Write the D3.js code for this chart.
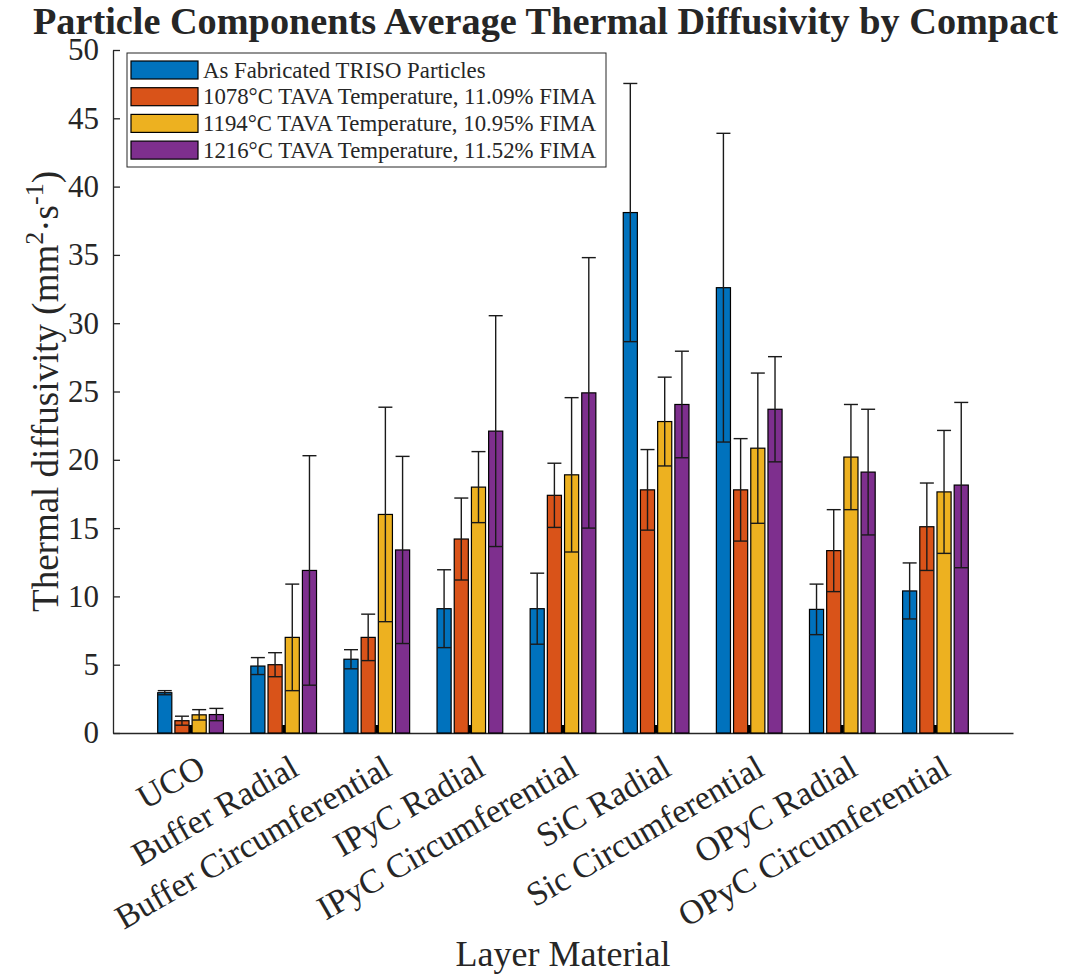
<!DOCTYPE html>
<html>
<head>
<meta charset="utf-8">
<script src="https://cdn.jsdelivr.net/npm/d3@7"></script>
<style>
  body { margin: 0; background: #fff; }
  text { font-family: "Liberation Serif", "Times New Roman", serif; fill: #262626; }
</style>
</head>
<body>
<svg id="chart" width="1066" height="977"></svg>
<script>
var categories = ['UCO', 'Buffer Radial', 'Buffer Circumferential', 'IPyC Radial',
  'IPyC Circumferential', 'SiC Radial', 'Sic Circumferential', 'OPyC Radial', 'OPyC Circumferential'];

var seriesNames = [
  'As Fabricated TRISO Particles',
  '1078\u00B0C TAVA Temperature, 11.09% FIMA',
  '1194\u00B0C TAVA Temperature, 10.95% FIMA',
  '1216\u00B0C TAVA Temperature, 11.52% FIMA'
];
var seriesColors = ['#0072BD', '#D95319', '#EDB120', '#7E2F8E'];

// mean values per category
var asFabMean  = [2.95, 4.9, 5.4, 9.1, 9.1, 38.1, 32.6, 9.05, 10.4];
var c1078Mean  = [0.9, 5.0, 7.0, 14.2, 17.4, 17.8, 17.8, 13.35, 15.1];
var c1194Mean  = [1.33, 7.0, 16.0, 18.0, 18.9, 22.8, 20.85, 20.2, 17.65];
var c1216Mean  = [1.35, 11.9, 13.4, 22.1, 24.9, 24.05, 23.7, 19.1, 18.15];

// error bar half-widths
var asFabErr   = [0.15, 0.62, 0.7, 2.85, 2.6, 9.45, 11.3, 1.85, 2.05];
var c1078Err   = [0.33, 0.88, 1.7, 3.0, 2.35, 2.95, 3.75, 3.0, 3.2];
var c1194Err   = [0.38, 3.9, 7.85, 2.6, 5.65, 3.25, 5.5, 3.85, 4.5];
var c1216Err   = [0.45, 8.4, 6.85, 8.45, 9.9, 3.9, 3.85, 4.6, 6.05];

var yTicks = [0, 5, 10, 15, 20, 25, 30, 35, 40, 45, 50];

var means  = [asFabMean, c1078Mean, c1194Mean, c1216Mean];
var errors = [asFabErr, c1078Err, c1194Err, c1216Err];

var svg = d3.select('#chart');
var axisColor = '#262626';

var plot = { left: 113, right: 1013, top: 50, bottom: 733 };

/**
 * Scales
 */
var x0 = d3.scaleBand()
  .domain(categories)
  .range([plot.left, plot.right])
  .paddingInner(0)
  .paddingOuter(0.333);

var groupWidth = 68.8;
var x1 = d3.scaleBand()
  .domain(d3.range(seriesNames.length))
  .range([-groupWidth / 2, groupWidth / 2])
  .paddingInner(0.18)
  .paddingOuter(0.09);

var y = d3.scaleLinear()
  .domain([0, 50])
  .range([plot.bottom, plot.top]);

function groupCenter(cat) {
  return x0(cat) + x0.bandwidth() / 2;
}

// flatten into one record per bar
var bars = [];
categories.forEach(function (cat, i) {
  means.forEach(function (series, s) {
    bars.push({ cat: cat, series: s, value: series[i], err: errors[s][i] });
  });
});

//////////
// X AXIS (ticks sit behind the bars)
var xAxis = svg.append('g')
  .attr('transform', 'translate(0,' + plot.bottom + ')')
  .call(d3.axisBottom(x0).tickSizeInner(-8).tickSizeOuter(0).tickFormat(''));

xAxis.select('.domain').attr('stroke', axisColor).attr('stroke-width', 1.3);
xAxis.selectAll('.tick line').attr('stroke', '#000').attr('stroke-width', 3);

//////////
// BARS
var barGroup = svg.append('g').attr('class', 'bars');

barGroup.selectAll('rect')
  .data(bars)
  .enter()
  .append('rect')
  .attr('x', function (d) { return groupCenter(d.cat) + x1(d.series); })
  .attr('width', x1.bandwidth())
  .attr('y', function (d) { return y(d.value); })
  .attr('height', function (d) { return y(0) - y(d.value); })
  .attr('fill', function (d) { return seriesColors[d.series]; })
  .attr('stroke', '#000')
  .attr('stroke-width', 1.2);

//////////
// ERROR BARS
var capHalf = 7;
var errGroup = svg.append('g')
  .attr('class', 'errors')
  .attr('stroke', '#1a1a1a')
  .attr('stroke-width', 1.4)
  .attr('fill', 'none');

var errEnter = errGroup.selectAll('g')
  .data(bars)
  .enter()
  .append('g')
  .attr('transform', function (d) {
    return 'translate(' + (groupCenter(d.cat) + x1(d.series) + x1.bandwidth() / 2) + ',0)';
  });

errEnter.append('line')
  .attr('y1', function (d) { return y(d.value - d.err); })
  .attr('y2', function (d) { return y(d.value + d.err); });

errEnter.append('line')
  .attr('x1', -capHalf).attr('x2', capHalf)
  .attr('y1', function (d) { return y(d.value + d.err); })
  .attr('y2', function (d) { return y(d.value + d.err); });

errEnter.append('line')
  .attr('x1', -capHalf).attr('x2', capHalf)
  .attr('y1', function (d) { return y(d.value - d.err); })
  .attr('y2', function (d) { return y(d.value - d.err); });

//////////
// Y AXIS
var yAxis = svg.append('g')
  .attr('transform', 'translate(' + plot.left + ',0)')
  .call(d3.axisLeft(y).tickValues(yTicks).tickSizeInner(-7).tickSizeOuter(0).tickPadding(14));

yAxis.select('.domain').attr('stroke', axisColor).attr('stroke-width', 1.3);
yAxis.selectAll('.tick line').attr('stroke', axisColor).attr('stroke-width', 1.3);
yAxis.selectAll('.tick text')
  .style('font-family', '"Liberation Serif", serif')
  .style('font-size', '31px')
  .attr('fill', axisColor);

// category labels, rotated
svg.append('g')
  .selectAll('text')
  .data(categories)
  .enter()
  .append('text')
  .text(function (d) { return d; })
  .style('font-size', '34px')
  .style('text-anchor', 'end')
  .attr('transform', function (d) {
    return 'translate(' + (groupCenter(d) + 17) + ',774) rotate(-30)';
  });

//////////
// LABELS
svg.append('text')
  .text('Layer Material')
  .style('font-size', '36px')
  .style('text-anchor', 'middle')
  .attr('x', (plot.left + plot.right) / 2)
  .attr('y', 966);

var yLabel = svg.append('text')
  .style('font-size', '37px')
  .style('text-anchor', 'middle')
  .attr('transform', 'translate(58,' + ((plot.top + plot.bottom) / 2) + ') rotate(-90)');

yLabel.append('tspan').text('Thermal diffusivity (mm');
yLabel.append('tspan').text('2').attr('dy', -15).style('font-size', '26px');
yLabel.append('tspan').text('\u00B7s').attr('dy', 15);
yLabel.append('tspan').text('-1').attr('dy', -15).style('font-size', '26px');
yLabel.append('tspan').text(')').attr('dy', 15);

var title = svg.append('text')
  .text('Particle Components Average Thermal Diffusivity by Compact')
  .style('font-size', '37px')
  .style('font-weight', 'bold')
  .style('text-anchor', 'middle')
  .attr('fill', '#000')
  .attr('x', 545.5)
  .attr('y', 34);

// fit title to the reference width
var titleWidth = title.node().getComputedTextLength();
if (Math.abs(titleWidth - 1025) > 4) {
  title.attr('textLength', 1025).attr('lengthAdjust', 'spacingAndGlyphs');
}

//////////
// LEGEND
var legend = svg.append('g').attr('class', 'legend');

legend.append('rect')
  .attr('x', 127).attr('y', 53)
  .attr('width', 479).attr('height', 114)
  .attr('fill', '#fff')
  .attr('stroke', axisColor)
  .attr('stroke-width', 1);

var legendItem = legend.selectAll('g.item')
  .data(seriesNames)
  .enter()
  .append('g')
  .attr('class', 'item')
  .attr('transform', function (d, i) { return 'translate(131,' + (70 + i * 26.7) + ')'; });

legendItem.append('rect')
  .attr('x', 0).attr('y', -9)
  .attr('width', 67).attr('height', 18)
  .attr('fill', function (d, i) { return seriesColors[i]; })
  .attr('stroke', '#000')
  .attr('stroke-width', 1.2);

legendItem.append('text')
  .text(function (d) { return d; })
  .attr('x', 72)
  .attr('dy', '0.34em')
  .style('font-size', '22.8px');
</script>
</body>
</html>
